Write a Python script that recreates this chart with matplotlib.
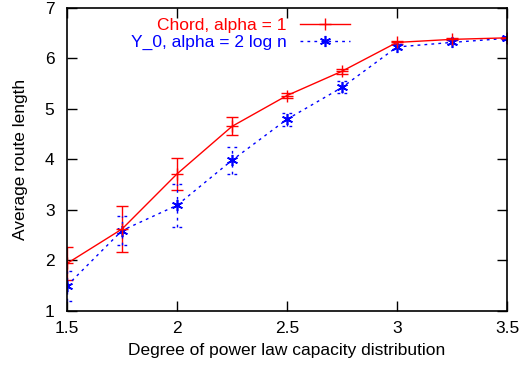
import numpy as np
import matplotlib.pyplot as plt
from matplotlib.lines import Line2D

plt.rcParams['font.family'] = ['Liberation Sans', 'DejaVu Sans']

degree = [1.5, 1.75, 2.0, 2.25, 2.5, 2.75, 3.0, 3.25, 3.5]
chord = [1.94, 2.62, 3.71, 4.65, 5.26, 5.74, 6.31, 6.37, 6.40]
chord_err = [0.32, 0.45, 0.31, 0.18, 0.05, 0.05, 0.03, 0.02, 0.02]
y0 = [1.50, 2.59, 3.09, 3.98, 4.79, 5.42, 6.22, 6.31, 6.39]
y0_err = [0.30, 0.28, 0.43, 0.27, 0.13, 0.12, 0.05, 0.04, 0.03]

asterisk = (6, 2, 0)
dots = (0, (2, 3))
fs = 12.5

fig = plt.figure(figsize=(5.21, 3.69), dpi=100)
ax = fig.add_axes([67/521, 1 - 311/369, 440/521, 303.5/369])

ax.errorbar(degree, chord, yerr=chord_err, color='red', lw=1, marker='+',
            ms=8, mew=1, capsize=4.5, elinewidth=1, capthick=1)
ax.plot(degree, y0, color='blue', lw=1, ls=dots, marker=asterisk, ms=8, mew=1.2)
# blue error bars are dotted, caps included
x = np.array(degree)
lo = np.array(y0) - np.array(y0_err)
hi = np.array(y0) + np.array(y0_err)
ax.vlines(x, lo, hi, color='blue', lw=1, linestyles=dots)
ax.hlines(lo, x - 0.021, x + 0.021, color='blue', lw=1, linestyles=dots)
ax.hlines(hi, x - 0.021, x + 0.021, color='blue', lw=1, linestyles=dots)

ax.set_xlim(1.5, 3.5)
ax.set_ylim(1, 7)
ax.set_xticks([1.5, 2, 2.5, 3, 3.5])
ax.set_xticklabels(['1.5', '2', '2.5', '3', '3.5'])
ax.set_yticks(range(1, 8))
ax.tick_params(direction='in', length=7, width=1, top=True, right=True,
               labelsize=fs)
ax.tick_params(axis='x', pad=7)
ax.tick_params(axis='y', pad=9)
for s in ax.spines.values():
    s.set_linewidth(1.2)

ax.set_xlabel('Degree of power law capacity distribution', fontsize=fs, labelpad=5)
ax.set_ylabel('Average route length', fontsize=fs, labelpad=12)

handles = [Line2D([], [], color='red', lw=1, marker='+', ms=8),
           Line2D([], [], color='blue', lw=1, ls=dots, marker=asterisk, ms=8, mew=1.2)]
ax.legend(handles, ['Chord, alpha = 1', 'Y_0, alpha = 2 log n'], loc='upper right',
          bbox_to_anchor=(350/521, 1 - 18/369), bbox_transform=fig.transFigure,
          frameon=False, markerfirst=False, labelcolor='linecolor', fontsize=fs,
          handlelength=2.9, labelspacing=0.08, handletextpad=0.75, borderaxespad=0,
          borderpad=0)

fig.savefig('out.png', dpi=100)
